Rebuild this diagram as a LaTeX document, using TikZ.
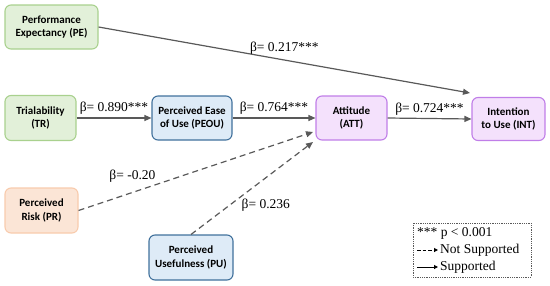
\documentclass[tikz,border=0pt]{standalone}
\usepackage{fontspec}
\setmainfont{Liberation Serif}
\newfontfamily\boxfont{Carlito}
\usetikzlibrary{arrows.meta}

\definecolor{greenFill}{HTML}{E2F0D9}
\definecolor{greenLine}{HTML}{A9D18E}
\definecolor{blueFill}{HTML}{DEEBF7}
\definecolor{blueLine}{HTML}{41719C}
\definecolor{purpleFill}{HTML}{F4E1FC}
\definecolor{purpleLine}{HTML}{C07EE8}
\definecolor{orangeFill}{HTML}{FBE5D6}
\definecolor{orangeLine}{HTML}{F8CBAD}
\definecolor{arrowGray}{HTML}{595959}

\begin{document}
\begin{tikzpicture}[x=1pt, y=-1pt,
  box/.style={draw, line width=1.1pt, rounded corners=6pt, align=center, inner sep=0pt,
    font=\boxfont\bfseries\fontsize{11}{13.5}\selectfont},
  greenbox/.style={box, fill=greenFill, draw=greenLine},
  bluebox/.style={box, fill=blueFill, draw=blueLine},
  purplebox/.style={box, fill=purpleFill, draw=purpleLine},
  orangebox/.style={box, fill=orangeFill, draw=orangeLine},
  link/.style={draw=arrowGray, line width=1.2pt, -{Triangle[length=7pt,width=6pt]}},
  notsup/.style={link, dash pattern=on 6pt off 4pt},
  coef/.style={font=\fontsize{13.5}{15}\selectfont, inner sep=1pt},
  legtext/.style={font=\fontsize{13.5}{15}\selectfont, inner sep=0pt, anchor=west}]
\useasboundingbox (0,0) rectangle (550,285);

% constructs
\node[greenbox, minimum width=93pt, minimum height=44pt] (PE) at (51.5,27) {Performance\\Expectancy (PE)};
\node[greenbox, minimum width=71pt, minimum height=45pt] (TR) at (40.5,118) {Trialability\\(TR)};
\node[bluebox, minimum width=80pt, minimum height=44pt] (PEOU) at (192,118) {Perceived Ease\\of Use (PEOU)};
\node[purplebox, minimum width=71pt, minimum height=44pt] (ATT) at (351.5,118) {Attitude\\(ATT)};
\node[purplebox, minimum width=73pt, minimum height=43pt] (INT) at (508.5,119) {Intention\\to Use (INT)};
\node[orangebox, minimum width=73pt, minimum height=45pt] (PR) at (41.5,210.5) {Perceived\\Risk (PR)};
\node[bluebox, minimum width=84pt, minimum height=45pt] (PU) at (191,257.5) {Perceived\\Usefulness (PU)};

\coordinate (intTop) at (470,93);
\coordinate (attPR) at (313,132);
\coordinate (attPU) at (313,142);

% paths
\draw[link] (PE.east) -- node[coef, midway, above=4pt] {β= 0.217***} (intTop);
\draw[link] (TR.east) -- node[coef, midway, above=2pt] {β= 0.890***} (PEOU.west);
\draw[link] (PEOU.east) -- node[coef, midway, above=2pt] {β= 0.764***} (ATT.west);
\draw[link] (ATT.east) -- node[coef, midway, above=2pt] {β= 0.724***} (INT.west);
\draw[notsup] (PR.east) -- node[coef, pos=0.23, above=8pt] {β= -0.20} (attPR);
\draw[notsup] (PU.north) -- node[coef, pos=0.32, right=10pt] {β= 0.236} (attPU);

% legend
\draw[densely dotted, line width=0.8pt, arrowGray] (413,223) rectangle (531,277);
\node[legtext] (sig) at (417,233) {*** p < 0.001};
\coordinate (nsA) at (417,250);
\coordinate (nsB) at (438,250);
\coordinate (sA) at (417,267);
\coordinate (sB) at (438,267);
\draw[black, line width=1pt, dash pattern=on 3.5pt off 2pt, -{Triangle[length=4pt,width=4pt]}] (nsA) -- (nsB);
\draw[black, line width=1pt, -{Triangle[length=4pt,width=4pt]}] (sA) -- (sB);
\node[legtext] (nsLabel) at (440,250) {Not Supported};
\node[legtext] (sLabel) at (440,267) {Supported};
\end{tikzpicture}
\end{document}
